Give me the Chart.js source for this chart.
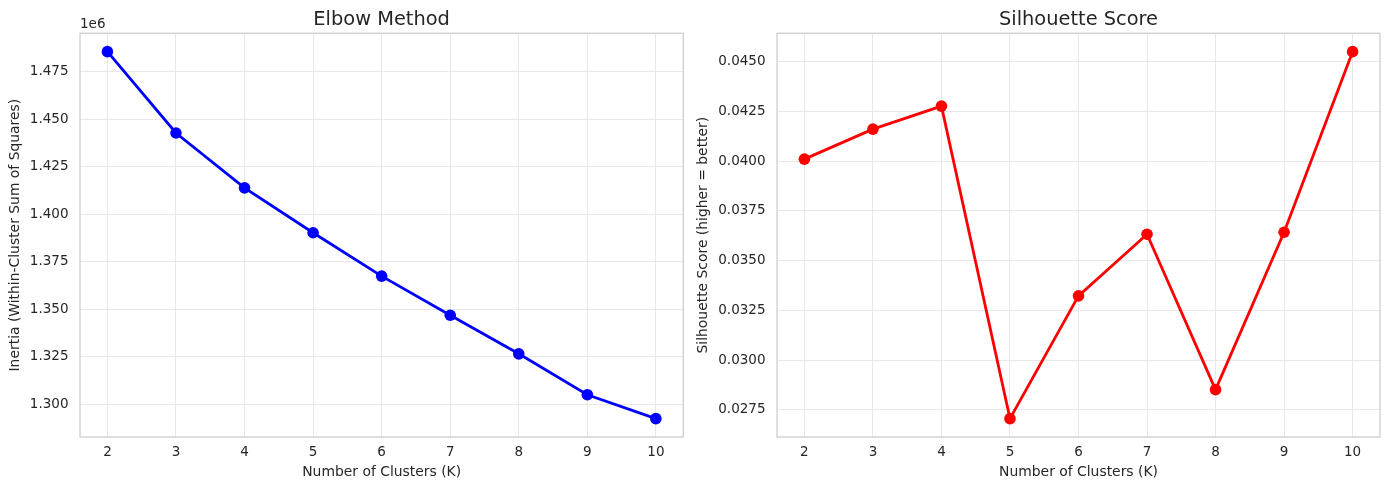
<!DOCTYPE html>
<html>
<head>
<meta charset="utf-8">
<script src="https://cdn.jsdelivr.net/npm/chart.js@4.4.1/dist/chart.umd.min.js"></script>
<style>
  body { margin:0; background:#fff; width:1389px; height:490px; position:relative; overflow:hidden; }
  canvas { position:absolute; top:0; }
  #elbow { left:0; }
  #silhouette { left:690px; }
</style>
</head>
<body>
<canvas id="elbow" width="690" height="490"></canvas>
<canvas id="silhouette" width="699" height="490"></canvas>
<script>
// values
const clusters = [2, 3, 4, 5, 6, 7, 8, 9, 10];
const inertia = [1485600, 1442800, 1413900, 1390300, 1367500, 1346900, 1326600, 1305100, 1292500];
const silhouette = [0.04011, 0.04162, 0.04278, 0.02705, 0.03323, 0.03633, 0.02851, 0.03643, 0.04552];
const inertiaTicks = [1300000, 1325000, 1350000, 1375000, 1400000, 1425000, 1450000, 1475000];
const silhouetteTicks = [0.0275, 0.0300, 0.0325, 0.0350, 0.0375, 0.0400, 0.0425, 0.0450];

const FONT = '"DejaVu Sans", sans-serif';
const TEXT = '#262626';
const GRID = '#e8e8e8';

// matplotlib style 5% margins
function padRange(vals){
  const lo = Math.min(...vals), hi = Math.max(...vals);
  const m = (hi - lo) * 0.05;
  return [lo - m, hi + m];
}

// axes frame + the "1e6" offset label
const framePlugin = {
  id: 'frame',
  afterDraw(chart, args, opts){
    const {ctx, chartArea: a} = chart;
    ctx.save();
    ctx.strokeStyle = '#cccccc';
    ctx.lineWidth = 1.25;
    ctx.strokeRect(a.left, a.top, a.right - a.left, a.bottom - a.top);
    if(opts.offsetText){
      ctx.fillStyle = TEXT;
      ctx.font = '13.5px ' + FONT;
      ctx.textAlign = 'left';
      ctx.textBaseline = 'middle';
      ctx.fillText(opts.offsetText, a.left, 24.5);
    }
    ctx.restore();
  }
};

function make_chart(id, cfg){
  const ctx = document.getElementById(id).getContext('2d');
  const [ymin, ymax] = padRange(cfg.values);
  const [xmin, xmax] = padRange(clusters);
  return new Chart(ctx, {
    type: 'line',
    data: {
      datasets: [{
        data: clusters.map((k, i) => ({x: k, y: cfg.values[i]})),
        borderColor: cfg.color,
        backgroundColor: cfg.color,
        pointBackgroundColor: cfg.color,
        pointBorderWidth: 0,
        pointRadius: 5.8,
        borderWidth: 2.8,
        tension: 0,
        fill: false
      }]
    },
    options: {
      responsive: false,
      animation: false,
      devicePixelRatio: 1,
      layout: { padding: { left: 0, right: cfg.padRight, top: 0, bottom: 0 } },
      plugins: {
        legend: { display: false },
        tooltip: { enabled: false },
        title: {
          display: true,
          fullSize: false,   // center over the plot area like matplotlib
          text: cfg.title,
          color: TEXT,
          font: { family: FONT, size: 19.4, weight: 'normal' },
          padding: { top: 8.5, bottom: 1.5 }
        },
        frame: { offsetText: cfg.offsetText }
      },
      scales: {
        x: {
          type: 'linear',
          min: xmin,
          max: xmax,
          afterBuildTicks: s => { s.ticks = clusters.map(v => ({value: v})); },
          afterFit: s => { s.height = 53; },
          grid: { color: GRID, lineWidth: 1, drawTicks: false },
          border: { display: false },
          ticks: { color: TEXT, font: { family: FONT, size: 13.5 }, padding: 7, maxRotation: 0,
                   callback: v => String(v) },
          title: { display: true, text: 'Number of Clusters (K)', color: TEXT,
                   font: { family: FONT, size: 13.9 }, padding: { top: 0, bottom: 9 } }
        },
        y: {
          type: 'linear',
          min: ymin,
          max: ymax,
          afterBuildTicks: s => { s.ticks = cfg.ticks.map(v => ({value: v})); },
          afterFit: s => { s.width = cfg.axisWidth; },
          grid: { color: GRID, lineWidth: 1, drawTicks: false },
          border: { display: false },
          ticks: { color: TEXT, font: { family: FONT, size: 13.5 }, padding: 11.5,
                   callback: cfg.tickFmt },
          title: { display: true, text: cfg.yTitle, color: TEXT,
                   font: { family: FONT, size: 13.9 }, padding: { top: cfg.yTitlePad, bottom: 0 } }
        }
      }
    },
    plugins: [framePlugin]
  });
}

const elbowChart = make_chart('elbow', {
  title: 'Elbow Method',
  values: inertia,
  ticks: inertiaTicks,
  color: '#0000ff',
  yTitle: 'Inertia (Within-Cluster Sum of Squares)',
  tickFmt: v => (v / 1e6).toFixed(3),
  offsetText: '1e6',
  axisWidth: 80,
  yTitlePad: 6.7,
  padRight: 6.7
});

const silChart = make_chart('silhouette', {
  title: 'Silhouette Score',
  values: silhouette,
  ticks: silhouetteTicks,
  color: '#ff0000',
  yTitle: 'Silhouette Score (higher = better)',
  tickFmt: v => v.toFixed(4),
  offsetText: '',
  axisWidth: 87,
  yTitlePad: 5,
  padRight: 9
});
</script>
</body>
</html>
